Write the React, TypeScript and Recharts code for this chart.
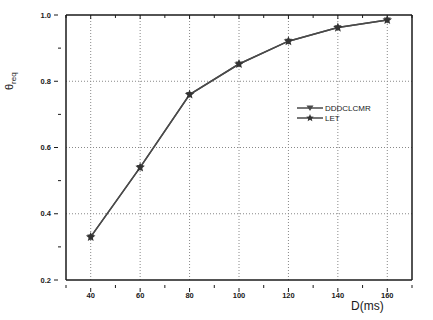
import React from "react";
import { LineChart, Line, XAxis, YAxis, CartesianGrid, ReferenceLine } from "recharts";

const categories = [40, 60, 80, 100, 120, 140, 160];
const dddclcmr = [0.33, 0.54, 0.76, 0.852, 0.921, 0.962, 0.985];
const letSeries = [0.33, 0.54, 0.76, 0.852, 0.921, 0.962, 0.985];
const seriesNames = ["DDDCLCMR", "LET"];
const xTicks = [30, 40, 50, 60, 70, 80, 90, 100, 110, 120, 130, 140, 150, 160, 170];
const xMajor = [40, 60, 80, 100, 120, 140, 160];
const yTicks = [0.2, 0.3, 0.4, 0.5, 0.6, 0.7, 0.8, 0.9, 1.0];
const yMajor = [0.2, 0.4, 0.6, 0.8, 1.0];
const yLabels = ["0.2", "0.4", "0.6", "0.8", "1.0"];

const data = categories.map((d, i) => ({ d, a: dddclcmr[i], b: letSeries[i] }));

const FONT = "'Liberation Sans', Arial, sans-serif";
const INK = "#1a1a1a";
const LINE = "#4a4a4a";

const isMajorX = (v: number) => xMajor.includes(v);
const isMajorY = (v: number) => yMajor.some((m) => Math.abs(m - v) < 1e-6);
const yLabel = (v: number) => yLabels[yMajor.findIndex((m) => Math.abs(m - v) < 1e-6)];

const XTick = (props: any) => {
  const { x, y, payload } = props;
  const v = payload.value;
  const major = isMajorX(v);
  return (
    <g>
      <line x1={x} x2={x} y1={y - (major ? 0 : 3)} y2={y + (major ? 4 : 0)} stroke={INK} strokeWidth={1} />
      {major && (
        <text x={x} y={y + 10} textAnchor="middle" fontSize={7.5} fontFamily={FONT} fill={INK} fontWeight="bold">
          {v}
        </text>
      )}
    </g>
  );
};

const YTickLeft = (props: any) => {
  const { x, y, payload } = props;
  const v = payload.value;
  const major = isMajorY(v);
  return (
    <g>
      <line x1={x - (major ? 4 : 0)} x2={x + (major ? 0 : 3)} y1={y} y2={y} stroke={INK} strokeWidth={1} />
      {major && (
        <text x={x - 7} y={y + 2.5} textAnchor="end" fontSize={7.5} fontFamily={FONT} fill={INK} fontWeight="bold">
          {yLabel(v)}
        </text>
      )}
    </g>
  );
};

const YTickRight = (props: any) => {
  const { x, y, payload } = props;
  const v = payload.value;
  const major = isMajorY(v);
  return (
    <g>
      <line x1={x - (major ? 4 : 3)} x2={x} y1={y} y2={y} stroke={INK} strokeWidth={1} />
      {major && (
        <text x={x + 4} y={y + 2.5} textAnchor="start" fontSize={7.5} fontFamily={FONT} fill={INK} fontWeight="bold">
          {yLabel(v)}
        </text>
      )}
    </g>
  );
};

const starPath = (cx: number, cy: number, r: number) => {
  const pts: string[] = [];
  for (let i = 0; i < 10; i++) {
    const ang = -Math.PI / 2 + (i * Math.PI) / 5;
    const rr = i % 2 === 0 ? r : r * 0.45;
    pts.push(`${cx + rr * Math.cos(ang)},${cy + rr * Math.sin(ang)}`);
  }
  return "M" + pts.join("L") + "Z";
};

const TriDot = (props: any) => {
  const { cx, cy } = props;
  if (cx == null || cy == null) return null;
  const r = 3.5;
  return <path d={`M${cx - r},${cy - r * 0.7}L${cx + r},${cy - r * 0.7}L${cx},${cy + r}Z`} fill={LINE} />;
};

const StarDot = (props: any) => {
  const { cx, cy } = props;
  if (cx == null || cy == null) return null;
  return <path d={starPath(cx, cy, 5)} fill="#333" />;
};

const LegendBox = () => (
  <svg width={90} height={26} style={{ position: "absolute", left: 297, top: 102, overflow: "visible" }}>
    <line x1={0} x2={26} y1={6} y2={6} stroke={LINE} strokeWidth={1.5} />
    <path d="M9.5,3.5L16.5,3.5L13,9Z" fill={LINE} />
    <text x={28} y={9} fontSize={8} fontFamily={FONT} fill={INK}>{seriesNames[0]}</text>
    <line x1={0} x2={26} y1={16} y2={16} stroke={LINE} strokeWidth={1.5} />
    <path d={starPath(13, 16, 4)} fill="#333" />
    <text x={28} y={19} fontSize={8} fontFamily={FONT} fill={INK}>{seriesNames[1]}</text>
  </svg>
);

const YTitle = () => {
  return (
    <text transform="translate(13,90) rotate(-90)" fontFamily={FONT} fill={INK}>
      <tspan fontSize={11}>θ</tspan>
      <tspan fontSize={8} dy={3}>req</tspan>
    </text>
  );
};

const topY = yMajor[yMajor.length - 1];

export default function App() {
  return (
    <div style={{ position: "absolute", left: 0, top: 0, width: 433, height: 320, background: "#fff" }}>
      <LineChart width={433} height={320} data={data} margin={{ top: 15, right: 0, bottom: 0, left: 0 }}>
        <CartesianGrid
          stroke="#888"
          strokeDasharray="1 2"
          horizontalValues={[0.4, 0.6, 0.8]}
          verticalValues={[40, 60, 80, 100, 120, 140, 160]}
          yAxisId="left"
        />
        <XAxis
          dataKey="d"
          type="number"
          domain={[30, 170]}
          ticks={xTicks}
          interval={0}
          tick={<XTick />}
          tickLine={false}
          axisLine={{ stroke: INK, strokeWidth: 1.5 }}
          height={40}
        />
        <YAxis
          yAxisId="left"
          domain={[0.2, 1.0]}
          ticks={yTicks}
          interval={0}
          tick={<YTickLeft />}
          tickLine={false}
          axisLine={{ stroke: INK, strokeWidth: 1.5 }}
          width={66}
          label={<YTitle />}
        />
        <YAxis
          yAxisId="right"
          orientation="right"
          domain={[0.2, 1.0]}
          ticks={yTicks}
          interval={0}
          tick={<YTickRight />}
          tickLine={false}
          axisLine={{ stroke: INK, strokeWidth: 1.5 }}
          width={21}
        />
        <ReferenceLine yAxisId="left" y={topY} stroke={INK} strokeWidth={1.5} ifOverflow="visible" />
        {xTicks.map((v) => (
          <ReferenceLine
            key={v}
            yAxisId="left"
            ifOverflow="visible"
            segment={[{ x: v, y: topY }, { x: v, y: topY - (isMajorX(v) ? 0.012 : 0.009) }]}
            stroke={INK}
            strokeWidth={1}
          />
        ))}
        <Line yAxisId="left" type="linear" dataKey="a" name={seriesNames[0]} stroke={LINE} strokeWidth={1.5} dot={<TriDot />} isAnimationActive={false} />
        <Line yAxisId="left" type="linear" dataKey="b" name={seriesNames[1]} stroke={LINE} strokeWidth={1.5} dot={<StarDot />} isAnimationActive={false} />
      </LineChart>
      <LegendBox />
      <div style={{ position: "absolute", left: 351, top: 299, fontFamily: FONT, fontSize: 12, lineHeight: "14px", color: INK }}>D(ms)</div>
    </div>
  );
}
